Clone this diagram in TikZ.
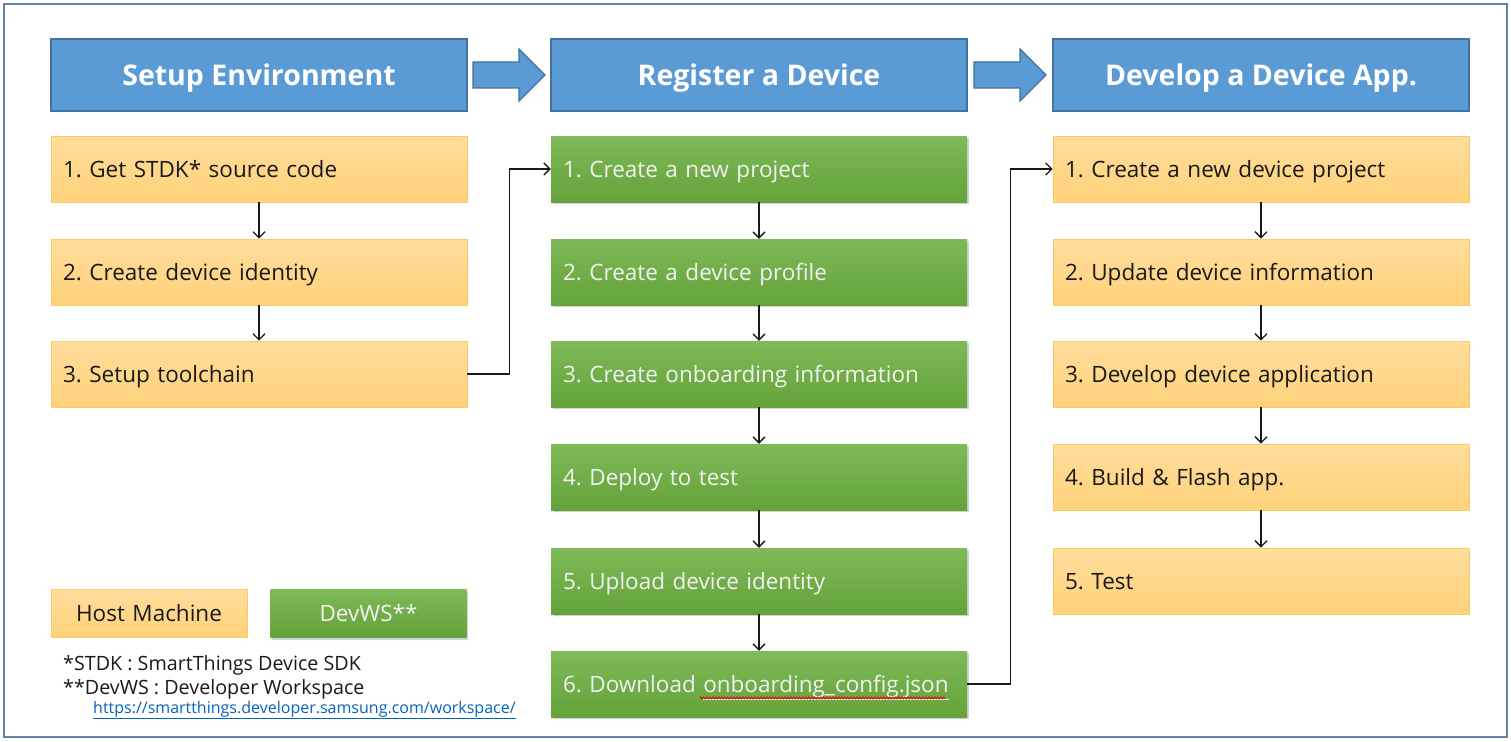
\documentclass[tikz,border=0pt]{standalone}
\usepackage{fontspec}
\setmainfont{Open Sans}
\usetikzlibrary{calc,arrows.meta,shadows,decorations.pathmorphing}

\definecolor{hdrblue}{HTML}{5B9BD5}
\definecolor{hdredge}{HTML}{41719C}
\definecolor{orgtop}{HTML}{FFDD9C}
\definecolor{orgbot}{HTML}{FFD27A}
\definecolor{orgedge}{HTML}{FBCB63}
\definecolor{grntop}{HTML}{7EBA57}
\definecolor{grnbot}{HTML}{64A23B}
\definecolor{frameblue}{HTML}{5E82AC}
\definecolor{linkblue}{HTML}{0563C1}

\newlength\dlpre
\newlength\dlname
\newcommand\bodyfont{\fontsize{22.5}{27}\selectfont}
\frenchspacing

\begin{document}
% widths used to place the spell-check squiggle
\settowidth\dlpre{\bodyfont 6. Download\ }
\settowidth\dlname{\bodyfont onboarding\_config.json}
\begin{tikzpicture}[x=1pt,y=-1pt,
  header/.style={draw=hdredge, line width=1.2pt, fill=hdrblue,
    minimum width=416pt, minimum height=72pt, inner sep=0pt,
    text height=20.3pt, text depth=0pt,
    text=white, font=\fontsize{28.5}{34}\selectfont\bfseries},
  stepbox/.style={minimum width=416pt, minimum height=66pt,
    text width=392pt, inner xsep=12pt, inner ysep=0pt, align=left,
    text height=16.1pt, text depth=0pt, font=\bodyfont},
  hostbox/.style={stepbox, top color=orgtop, bottom color=orgbot,
    draw=orgedge, line width=0.8pt, text=black!90},
  wsbox/.style={stepbox, top color=grntop, bottom color=grnbot,
    text=white!95!black,
    drop shadow={opacity=0.35, shadow xshift=1.5pt, shadow yshift=-2pt}},
  legendbox/.style={minimum height=48pt, text width=172pt, align=center},
  flow/.style={line width=1.3pt, black!90,
    -{Straight Barb[length=6pt, width=12pt, line width=1.3pt]}},
  blockarrow/.style={fill=hdrblue, draw=hdredge, line width=1.2pt},
  note/.style={anchor=base west, inner sep=0pt, text=black!90,
    font=\fontsize{19.7}{24}\selectfont}
]
\fill[white] (0,0) rectangle (1511,741);
\useasboundingbox (0,0) rectangle (1511,741);

% outer frame
\draw[frameblue, line width=1.3pt] (4,4) rectangle (1507,737);

% phase headers
\node[header] (h1) at (259,75) {Setup Environment};
\node[header] (h2) at (759,75) {Register a Device};
\node[header] (h3) at (1261,75) {Develop a Device App.};

% block arrows between the phases
\foreach \a/\b in {h1/h2, h2/h3} {
  \coordinate (m) at ($(\a.east)!0.5!(\b.west)$);
  \draw[blockarrow] ($(m)+(-36,-13)$) -- ($(m)+(10,-13)$) -- ($(m)+(10,-26)$)
    -- ($(m)+(36,0)$) -- ($(m)+(10,26)$) -- ($(m)+(10,13)$)
    -- ($(m)+(-36,13)$) -- cycle;
}

% setup environment steps
\node[hostbox] (s1) at (259,169) {1. Get STDK* source code};
\node[hostbox] (s2) at (259,272) {2. Create device identity};
\node[hostbox] (s3) at (259,374) {3. Setup toolchain};

% register device steps
\node[wsbox] (r1) at (759,169) {1. Create a new project};
\node[wsbox] (r2) at (759,272) {2. Create a device profile};
\node[wsbox] (r3) at (759,374) {3. Create onboarding information};
\node[wsbox] (r4) at (759,477) {4. Deploy to test};
\node[wsbox] (r5) at (759,581) {5. Upload device identity};
\node[wsbox] (r6) at (759,684) {\mbox{6. Download \underline{onboarding\_config.json}}};

% develop app steps
\node[hostbox] (d1) at (1261,169) {1. Create a new device project};
\node[hostbox] (d2) at (1261,272) {2. Update device information};
\node[hostbox] (d3) at (1261,374) {3. Develop device application};
\node[hostbox] (d4) at (1261,477) {4. Build \& Flash app.};
\node[hostbox] (d5) at (1261,581) {5. Test};

% spell-check squiggle under the file name
\coordinate (sq) at ($(r6.west)+(12pt+\dlpre,-14pt)$);
\draw[red!90!black, line width=0.9pt, decorate,
  decoration={snake, amplitude=0.9pt, segment length=3pt}]
  (sq) -- ++(\dlname,0pt);

% flow within each column
\draw[flow] (s1.south) -- (s2.north);
\draw[flow] (s2.south) -- (s3.north);
\draw[flow] (r1.south) -- (r2.north);
\draw[flow] (r2.south) -- (r3.north);
\draw[flow] (r3.south) -- (r4.north);
\draw[flow] (r4.south) -- (r5.north);
\draw[flow] (r5.south) -- (r6.north);
\draw[flow] (d1.south) -- (d2.north);
\draw[flow] (d2.south) -- (d3.north);
\draw[flow] (d3.south) -- (d4.north);
\draw[flow] (d4.south) -- (d5.north);

% flow between the columns
\draw[flow] (s3.east) -- ++(42,0) |- (r1.west);
\draw[flow] (r6.east) -- ++(43,0) |- (d1.west);

% legend
\node[hostbox, legendbox, minimum width=196pt] (lhost) at (149,613.5) {Host Machine};
\node[wsbox, legendbox, minimum width=195pt] (lws) at (368.5,613.5) {DevWS**};

% footnotes
\node[note] (fn1) at (63,670) {*STDK : SmartThings Device SDK};
\node[note] (fn2) at (63,694) {**DevWS : Developer Workspace};
\node[note, text=linkblue, font=\fontsize{16}{19}\selectfont] (url) at (93,713)
  {\underline{https://smartthings.developer.samsung.com/workspace/}};
\end{tikzpicture}
\end{document}
